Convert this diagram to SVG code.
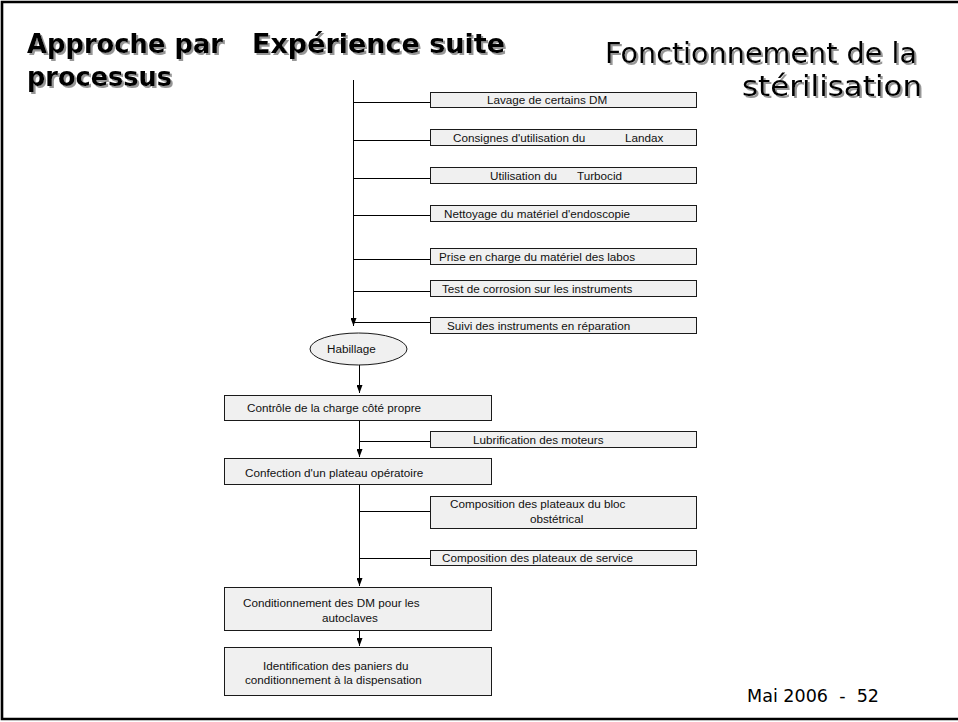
<svg xmlns="http://www.w3.org/2000/svg" width="958" height="722" viewBox="0 0 958 722">
<defs>
<style>
.bx{fill:#f0f0f0;stroke:#1a1a1a;stroke-width:1}
.t{font-family:"Liberation Sans",Arial,sans-serif;font-size:11.7px;fill:#111}
.ti{font-family:"DejaVu Sans","Noto Sans",sans-serif;fill:#000}
.c{stroke:#000;stroke-width:1;fill:none}
</style>
<filter id="sh" x="-5%" y="-20%" width="110%" height="140%">
<feDropShadow dx="2" dy="2" stdDeviation="0.6" flood-color="#8a8a8a" flood-opacity="0.9"/>
</filter>
<marker id="ah" viewBox="0 0 8 6" refX="8" refY="3" markerWidth="8" markerHeight="6" markerUnits="userSpaceOnUse" orient="auto">
<path d="M0,0 L8,3 L0,6 z" fill="#000"/>
</marker>
</defs>
<rect x="0" y="0" width="958" height="722" fill="#fff"/>
<path d="M958,2 H2 V719 H958" fill="none" stroke="#000" stroke-width="2.6"/>

<g id="titles" filter="url(#sh)">
<text class="ti" x="27" y="53" font-size="27" font-weight="bold" textLength="196" lengthAdjust="spacingAndGlyphs">Approche par</text>
<text class="ti" x="27" y="86" font-size="27" font-weight="bold" textLength="145" lengthAdjust="spacingAndGlyphs">processus</text>
<text class="ti" x="252" y="53" font-size="27" font-weight="bold" textLength="253" lengthAdjust="spacingAndGlyphs">Expérience suite</text>
<text class="ti" x="605" y="63" font-size="28" textLength="312" lengthAdjust="spacingAndGlyphs">Fonctionnement de la</text>
<text class="ti" x="742" y="96" font-size="28" textLength="180" lengthAdjust="spacingAndGlyphs">stérilisation</text>
</g>
<text id="footer" class="ti" x="747" y="702" font-size="18" textLength="132" lengthAdjust="spacingAndGlyphs" xml:space="preserve">Mai 2006  -  52</text>

<g id="connectors">
<line class="c" x1="353.5" y1="80" x2="353.5" y2="326" marker-end="url(#ah)"/>
<line class="c" x1="353.5" y1="102.5" x2="430" y2="102.5"/>
<line class="c" x1="353.5" y1="140.5" x2="430" y2="140.5"/>
<line class="c" x1="353.5" y1="178.5" x2="430" y2="178.5"/>
<line class="c" x1="353.5" y1="215.5" x2="430" y2="215.5"/>
<line class="c" x1="353.5" y1="259.5" x2="430" y2="259.5"/>
<line class="c" x1="353.5" y1="291.5" x2="430" y2="291.5"/>
<line class="c" x1="353.5" y1="322.5" x2="430" y2="322.5"/>
<line class="c" x1="359.5" y1="365" x2="359.5" y2="393" marker-end="url(#ah)"/>
<line class="c" x1="359.5" y1="420" x2="359.5" y2="457" marker-end="url(#ah)"/>
<line class="c" x1="359.5" y1="441.5" x2="430" y2="441.5"/>
<line class="c" x1="359.5" y1="485" x2="359.5" y2="586" marker-end="url(#ah)"/>
<line class="c" x1="359.5" y1="511.5" x2="430" y2="511.5"/>
<line class="c" x1="359.5" y1="558.5" x2="430" y2="558.5"/>
<line class="c" x1="359.5" y1="631" x2="359.5" y2="646" marker-end="url(#ah)"/>
</g>

<g id="n1"><rect class="bx" x="430.5" y="92.5" width="266" height="15"/><text class="t" x="487" y="104">Lavage de certains DM</text></g>
<g id="n2"><rect class="bx" x="430.5" y="129.5" width="266" height="16"/><text class="t" y="142"><tspan x="453">Consignes d'utilisation du</tspan><tspan x="625">Landax</tspan></text></g>
<g id="n3"><rect class="bx" x="430.5" y="167.5" width="266" height="16"/><text class="t" y="180"><tspan x="490">Utilisation du</tspan><tspan x="577">Turbocid</tspan></text></g>
<g id="n4"><rect class="bx" x="430.5" y="205.5" width="266" height="16"/><text class="t" x="444" y="218">Nettoyage du matériel d'endoscopie</text></g>
<g id="n5"><rect class="bx" x="430.5" y="248.5" width="266" height="16"/><text class="t" x="439" y="261">Prise en charge du matériel des labos</text></g>
<g id="n6"><rect class="bx" x="430.5" y="280.5" width="266" height="16"/><text class="t" x="442" y="293">Test de corrosion sur les instruments</text></g>
<g id="n7"><rect class="bx" x="430.5" y="317.5" width="266" height="16"/><text class="t" x="447" y="330">Suivi des instruments en réparation</text></g>
<g id="n8"><ellipse cx="358.5" cy="349" rx="48.5" ry="16" fill="#f0f0f0" stroke="#1a1a1a" stroke-width="1"/><text class="t" x="327" y="353">Habillage</text></g>
<g id="n9"><rect class="bx" x="224.5" y="395.5" width="267" height="25"/><text class="t" x="247" y="412">Contrôle de la charge côté propre</text></g>
<g id="n10"><rect class="bx" x="430.5" y="431.5" width="266" height="16"/><text class="t" x="473" y="444">Lubrification des moteurs</text></g>
<g id="n11"><rect class="bx" x="224.5" y="458.5" width="267" height="26"/><text class="t" x="245" y="477">Confection d'un plateau opératoire</text></g>
<g id="n12"><rect class="bx" x="430.5" y="496.5" width="266" height="32"/><text class="t" y="508"><tspan x="450">Composition des plateaux du bloc</tspan><tspan x="530" dy="15">obstétrical</tspan></text></g>
<g id="n13"><rect class="bx" x="430.5" y="550.5" width="266" height="15"/><text class="t" x="442" y="562">Composition des plateaux de service</text></g>
<g id="n14"><rect class="bx" x="224.5" y="587.5" width="267" height="43"/><text class="t" y="607"><tspan x="243">Conditionnement des DM pour les</tspan><tspan x="322" dy="14.5">autoclaves</tspan></text></g>
<g id="n15"><rect class="bx" x="224.5" y="647.5" width="267" height="48"/><text class="t" y="670"><tspan x="263">Identification des paniers du</tspan><tspan x="245" dy="13.5">conditionnement à la dispensation</tspan></text></g>
</svg>
